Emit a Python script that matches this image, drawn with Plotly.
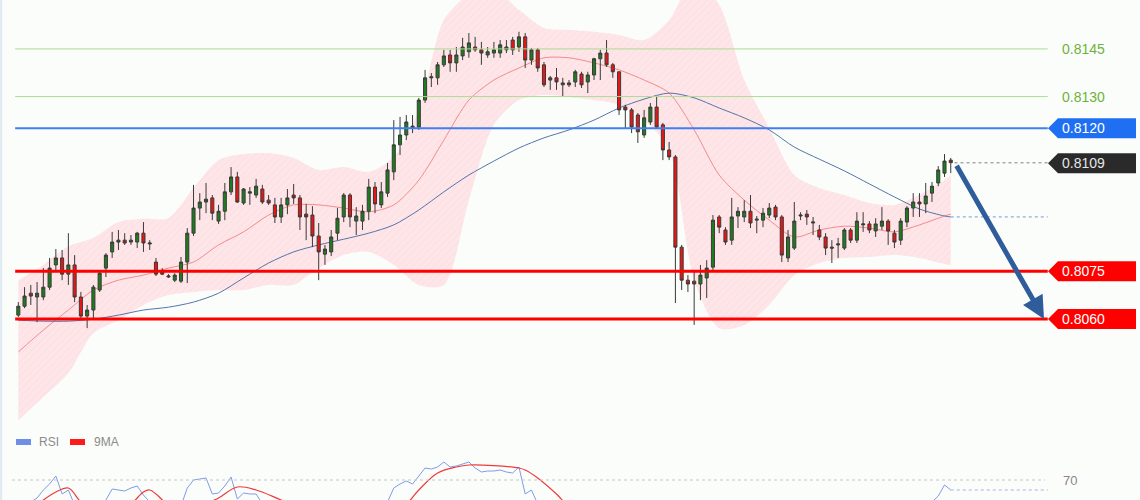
import plotly.graph_objects as go

W, H = 1140, 500

# ---------------- price data (one candle per index) ----------------
opens = [0.80612,0.80640,0.80681,0.80669,0.80669,0.80700,0.80770,0.80792,0.80741,0.80770,
         0.80669,0.80609,0.80628,0.80691,0.80760,0.80811,0.80842,0.80848,0.80842,0.80842,
         0.80870,0.80836,0.80779,0.80748,0.80732,0.80722,0.80719,0.80779,0.80870,0.80949,
         0.80968,0.80981,0.80908,0.80939,0.81000,0.81047,0.80965,0.80996,0.80990,0.81009,
         0.80974,0.80959,0.80921,0.80959,0.80990,0.80981,0.80930,0.80927,0.80861,0.80804,
         0.80811,0.80870,0.80921,0.80990,0.80908,0.80908,0.80939,0.81015,0.80959,0.80996,
         0.81063,0.81148,0.81179,0.81201,0.81204,0.81289,0.81359,0.81359,0.81400,0.81431,
         0.81406,0.81428,0.81441,0.81456,0.81447,0.81431,0.81437,0.81437,0.81447,0.81478,
         0.81456,0.81488,0.81415,0.81447,0.81400,0.81352,0.81359,0.81337,0.81343,0.81346,
         0.81371,0.81346,0.81368,0.81419,0.81437,0.81400,0.81378,0.81267,0.81258,0.81242,
         0.81179,0.81220,0.81267,0.81211,0.81132,0.81110,0.80826,0.80722,0.80719,0.80710,
         0.80729,0.80763,0.80921,0.80880,0.80848,0.80924,0.80921,0.80939,0.80911,0.80911,
         0.80927,0.80952,0.80921,0.80792,0.80823,0.80924,0.80930,0.80902,0.80880,0.80858,
         0.80826,0.80833,0.80823,0.80880,0.80848,0.80896,0.80899,0.80877,0.80892,0.80908,
         0.80870,0.80848,0.80905,0.80949,0.80968,0.80962,0.80996,0.81028,0.81059,0.81100]
highs = [0.80653,0.80700,0.80707,0.80716,0.80760,0.80792,0.80820,0.80817,0.80870,0.80801,
         0.80685,0.80644,0.80707,0.80748,0.80807,0.80874,0.80880,0.80870,0.80864,0.80874,
         0.80905,0.80848,0.80792,0.80760,0.80741,0.80744,0.80795,0.80886,0.81022,0.80996,
         0.81028,0.80990,0.80959,0.81028,0.81078,0.81063,0.81012,0.81015,0.81041,0.81022,
         0.80990,0.80981,0.80981,0.81009,0.81025,0.80990,0.80962,0.80955,0.80902,0.80833,
         0.80880,0.80949,0.80996,0.80996,0.80952,0.80959,0.81041,0.81031,0.81031,0.81091,
         0.81226,0.81236,0.81242,0.81242,0.81296,0.81384,0.81374,0.81409,0.81447,0.81447,
         0.81456,0.81485,0.81500,0.81488,0.81472,0.81456,0.81472,0.81478,0.81478,0.81488,
         0.81504,0.81500,0.81453,0.81453,0.81409,0.81365,0.81390,0.81359,0.81352,0.81384,
         0.81378,0.81378,0.81422,0.81447,0.81478,0.81406,0.81378,0.81274,0.81264,0.81248,
         0.81258,0.81280,0.81299,0.81217,0.81157,0.81116,0.80833,0.80738,0.80754,0.80770,
         0.80785,0.80927,0.80927,0.80889,0.80981,0.80952,0.80974,0.80990,0.80924,0.80949,
         0.80965,0.80959,0.80927,0.80880,0.80968,0.80936,0.80943,0.80921,0.80896,0.80870,
         0.80848,0.80855,0.80886,0.80886,0.80936,0.80936,0.80908,0.80917,0.80952,0.80914,
         0.80880,0.80917,0.80955,0.80996,0.80996,0.81028,0.81031,0.81081,0.81119,0.81107]
lows = [0.80606,0.80634,0.80644,0.80590,0.80659,0.80691,0.80754,0.80722,0.80707,0.80653,
        0.80603,0.80571,0.80603,0.80685,0.80732,0.80792,0.80817,0.80833,0.80833,0.80823,
        0.80811,0.80817,0.80735,0.80738,0.80729,0.80716,0.80713,0.80713,0.80861,0.80911,
        0.80933,0.80911,0.80899,0.80911,0.80990,0.80965,0.80959,0.80959,0.80981,0.80962,
        0.80959,0.80902,0.80902,0.80930,0.80962,0.80880,0.80848,0.80826,0.80722,0.80770,
        0.80798,0.80848,0.80905,0.80889,0.80864,0.80880,0.80911,0.80933,0.80949,0.80984,
        0.81037,0.81116,0.81163,0.81185,0.81195,0.81280,0.81330,0.81337,0.81393,0.81378,
        0.81378,0.81415,0.81422,0.81441,0.81400,0.81422,0.81422,0.81422,0.81437,0.81431,
        0.81441,0.81390,0.81400,0.81378,0.81330,0.81321,0.81321,0.81299,0.81330,0.81330,
        0.81327,0.81311,0.81352,0.81352,0.81393,0.81359,0.81242,0.81201,0.81185,0.81154,
        0.81170,0.81211,0.81201,0.81100,0.81100,0.80650,0.80691,0.80685,0.80581,0.80659,
        0.80666,0.80754,0.80870,0.80833,0.80833,0.80886,0.80905,0.80886,0.80870,0.80889,
        0.80917,0.80911,0.80779,0.80779,0.80817,0.80911,0.80896,0.80864,0.80848,0.80801,
        0.80776,0.80792,0.80817,0.80839,0.80839,0.80874,0.80870,0.80858,0.80880,0.80833,
        0.80823,0.80833,0.80889,0.80921,0.80921,0.80933,0.80968,0.81018,0.81047,0.81059]
closes = [0.80640,0.80672,0.80672,0.80681,0.80700,0.80760,0.80792,0.80741,0.80770,0.80669,
          0.80609,0.80628,0.80700,0.80744,0.80801,0.80842,0.80848,0.80839,0.80848,0.80870,
          0.80839,0.80839,0.80741,0.80741,0.80735,0.80738,0.80779,0.80870,0.80949,0.80968,
          0.80977,0.80933,0.80939,0.81000,0.81047,0.80968,0.81009,0.81000,0.81018,0.80968,
          0.80965,0.80921,0.80959,0.80981,0.80981,0.80921,0.80921,0.80861,0.80811,0.80820,
          0.80858,0.80917,0.80990,0.80921,0.80924,0.80939,0.81015,0.80962,0.81000,0.81069,
          0.81148,0.81179,0.81220,0.81207,0.81289,0.81359,0.81362,0.81400,0.81428,0.81406,
          0.81431,0.81456,0.81469,0.81447,0.81437,0.81441,0.81447,0.81463,0.81456,0.81447,
          0.81488,0.81415,0.81447,0.81390,0.81337,0.81359,0.81346,0.81343,0.81337,0.81378,
          0.81337,0.81368,0.81419,0.81437,0.81400,0.81378,0.81258,0.81258,0.81204,0.81189,
          0.81233,0.81267,0.81204,0.81132,0.81110,0.80826,0.80722,0.80710,0.80710,0.80738,
          0.80760,0.80911,0.80889,0.80842,0.80921,0.80939,0.80939,0.80902,0.80914,0.80933,
          0.80949,0.80921,0.80801,0.80858,0.80908,0.80927,0.80921,0.80905,0.80858,0.80823,
          0.80823,0.80836,0.80880,0.80848,0.80908,0.80899,0.80880,0.80899,0.80908,0.80877,
          0.80842,0.80908,0.80949,0.80968,0.80962,0.80987,0.81018,0.81069,0.81097,0.81092]
candle_idx = list(range(len(opens)))

# ---------------- indicators (sampled every 4th candle) ----------------
band_idx = list(range(0, 149, 4)) + [149]
bb_upper = [0.80722,0.80770,0.80829,0.80855,0.80905,0.80915,0.80918,0.81012,0.81100,0.81119,
            0.81122,0.81107,0.81069,0.81078,0.81063,0.81110,0.81258,0.81541,0.81620,0.81636,
            0.81573,0.81516,0.81510,0.81504,0.81494,0.81478,0.81541,0.81667,0.81589,0.81352,
            0.81201,0.81053,0.81012,0.80990,0.80965,0.80959,0.80990,0.81037,0.81053]
bb_lower = [0.80281,0.80354,0.80429,0.80555,0.80596,0.80644,0.80675,0.80685,0.80691,0.80691,
            0.80707,0.80707,0.80760,0.80801,0.80811,0.80770,0.80707,0.80707,0.80974,0.81211,
            0.81289,0.81305,0.81299,0.81289,0.81274,0.81226,0.81132,0.80722,0.80571,0.80581,
            0.80644,0.80738,0.80776,0.80792,0.80795,0.80801,0.80792,0.80773,0.80770]
bb_mid = [0.80496,0.80565,0.80628,0.80691,0.80722,0.80738,0.80760,0.80779,0.80833,0.80874,
          0.80927,0.80959,0.80959,0.80949,0.80937,0.80959,0.81037,0.81163,0.81289,0.81352,
          0.81390,0.81422,0.81422,0.81406,0.81384,0.81352,0.81311,0.81195,0.81053,0.80974,
          0.80911,0.80858,0.80880,0.80892,0.80886,0.80874,0.80896,0.80924,0.80930]
ma_slow = [0.80596,0.80593,0.80593,0.80599,0.80612,0.80628,0.80637,0.80653,0.80681,0.80729,
           0.80776,0.80811,0.80833,0.80851,0.80870,0.80896,0.80943,0.81000,0.81053,0.81097,
           0.81138,0.81170,0.81195,0.81226,0.81264,0.81292,0.81311,0.81296,0.81264,0.81233,
           0.81195,0.81141,0.81103,0.81066,0.81025,0.80984,0.80946,0.80924,0.80921]

# ---------------- levels ----------------
green_levels = [0.8145, 0.8130]
blue_level = 0.8120
red_levels = [0.8075, 0.8060]
last_price = 0.8109

# ---------------- RSI panel ----------------
rsi = [56,58,59,61,65,68,72,63,65,57,50,47,49,56,60,
       65.5,65,64.5,66,67,62.5,59,50,46,44,46,57,66,70,70.5,
       71,63,63.5,67,71.5,60.5,63.5,63,63,58,56,50,53,56,55,
       50,49,44,40,41,45,49,55,49,50,52,57,53,55,59,
       66,68,69.5,68,72,76,75.5,76.5,79,76.5,77,78,79,76,74,
       74.5,74.5,75,74,73.5,76.5,63,65,58,50,51,49,48,48,52,
       49,51,56,58,52,49,40,39,36,34,39,43,38,33,31,
       20,17,17,17,20,25,40,37,34,43,45,45,42,42,44,
       46,44,34,40,46,46,45,43,40,36,36,37,43,40,46,
       46,44,46,47,44,41,47,52,55,54,56,59,62,67.5,65]
ma9_idx = [0,2,4,6,8,10,12,14,16,18,20,21,22,24,26,28,30,32,35,38,42,46,50,54,58,62,64,67,
           70,72,76,80,81,83,86,88,92,96,100,106,112,118,124,130,136,142,149]
ma9 = [52,55,60,64,66,59,55,54,55,58,64,65,63,57,52,54,58,61,66.5,65,60,55,48,47,51,58,65,73.5,
       76.5,77.5,77.2,76,75,71,63,57,54,52,46,38,40,47,50,48,52,55,58]
rsi_level = 70

# ---------------- geometry ----------------
Y_RANGE = [0.80030, 0.81604]
X_RANGE = [-2.924, 179.24]
LINE_X0, LINE_X1 = -0.5, 164.5

def px(x):
    return x / W

def py(y):
    return 1 - y / H

BOX_HALF = (Y_RANGE[1] - Y_RANGE[0]) * 10 / H

FONT = "Liberation Sans, Arial, sans-serif"

fig = go.Figure()

# Bollinger band fill (main subplot, drawn underneath)
fig.add_trace(go.Scatter(x=band_idx, y=bb_upper, mode="lines",
                         line=dict(width=0, shape="spline", smoothing=0.8, color="rgba(0,0,0,0)"),
                         hoverinfo="skip", showlegend=False))
fig.add_trace(go.Scatter(x=band_idx, y=bb_lower, mode="lines",
                         line=dict(width=0, shape="spline", smoothing=0.8, color="rgba(0,0,0,0)"),
                         fill="tonexty", fillcolor="#fde4e7",
                         fillpattern=dict(shape="/", fgcolor="#f8cdd3", bgcolor="#fde5e8",
                                          size=5, solidity=0.15),
                         hoverinfo="skip", showlegend=False))
fig.add_trace(go.Scatter(x=band_idx, y=bb_mid, mode="lines",
                         line=dict(width=1, shape="spline", smoothing=0.8, color="#f28c8c"),
                         hoverinfo="skip", showlegend=False))
fig.add_trace(go.Scatter(x=band_idx, y=ma_slow, mode="lines",
                         line=dict(width=1, shape="spline", smoothing=0.8, color="#5574aa"),
                         hoverinfo="skip", showlegend=False))

# candles on an overlaying axis so they sit above the band fill
fig.add_trace(go.Candlestick(
    x=candle_idx, open=opens, high=highs, low=lows, close=closes, yaxis="y3",
    increasing=dict(line=dict(color="#3a3a3a", width=1), fillcolor="#1d7d1d"),
    decreasing=dict(line=dict(color="#3a3a3a", width=1), fillcolor="#ee1414"),
    whiskerwidth=0, showlegend=False, hoverinfo="skip"))

# RSI lines
fig.add_trace(go.Scatter(x=candle_idx, y=rsi, mode="lines", yaxis="y2",
                         line=dict(width=1, color="#7f9be8"), hoverinfo="skip", showlegend=False))
fig.add_trace(go.Scatter(x=ma9_idx, y=ma9, mode="lines", yaxis="y2",
                         line=dict(width=1.2, color="#ef3a3a", shape="spline"),
                         hoverinfo="skip", showlegend=False))

shapes = []
annotations = []

# left frame edge
shapes.append(dict(type="line", xref="paper", yref="paper", x0=0.001, x1=0.001, y0=0, y1=1,
                   line=dict(color="#dfe9f0", width=2)))

for lv in green_levels:
    shapes.append(dict(type="line", xref="x", yref="y", x0=LINE_X0, x1=LINE_X1, y0=lv, y1=lv,
                       line=dict(color="#addb94", width=1)))
    annotations.append(dict(xref="paper", yref="y", x=px(1060), y=lv, text=f"{lv:.4f}",
                            showarrow=False, xanchor="left", yanchor="middle",
                            font=dict(family=FONT, size=14, color="#6db23e")))

def label_box(level, color, text, text_color="white"):
    xt, xa, xr = px(1048), px(1058), px(1136)
    path = (f"M {xt},{level} L {xa},{level + BOX_HALF} L {xr},{level + BOX_HALF} "
            f"L {xr},{level - BOX_HALF} L {xa},{level - BOX_HALF} Z")
    shapes.append(dict(type="path", xref="paper", yref="y", path=path,
                       fillcolor=color, line=dict(width=0)))
    annotations.append(dict(xref="paper", yref="y", x=px(1060), y=level, text=text,
                            showarrow=False, xanchor="left", yanchor="middle",
                            font=dict(family=FONT, size=14, color=text_color)))

shapes.append(dict(type="line", xref="x", yref="y", x0=LINE_X0, x1=LINE_X1,
                   y0=blue_level, y1=blue_level, line=dict(color="#3f7ff2", width=2)))
label_box(blue_level, "#1f6ff2", f"{blue_level:.4f}")

for lv in red_levels:
    shapes.append(dict(type="line", xref="x", yref="y", x0=LINE_X0, x1=LINE_X1, y0=lv, y1=lv,
                       line=dict(color="#ff0000", width=3)))
    label_box(lv, "#ff0000", f"{lv:.4f}")

# last price marker
shapes.append(dict(type="line", xref="x", yref="y", x0=candle_idx[-1] + 0.6, x1=LINE_X1,
                   y0=closes[-1], y1=closes[-1], line=dict(color="#a9a9a9", width=1.5, dash="dot")))
label_box(last_price, "#2a2a2a", f"{last_price:.4f}", "#e6e6e6")

# slow MA last value marker
shapes.append(dict(type="line", xref="x", yref="y", x0=band_idx[-1], x1=LINE_X1,
                   y0=ma_slow[-1], y1=ma_slow[-1], line=dict(color="#92aae0", width=1.2, dash="dot")))

# forecast arrow
annotations.append(dict(x=163.9, y=red_levels[1], xref="x", yref="y",
                        ax=candle_idx[-1] + 0.8, ay=last_price - 0.00003, axref="x", ayref="y",
                        text="", showarrow=True, arrowhead=2, arrowsize=0.9, arrowwidth=5,
                        arrowcolor="#2f5d9c", standoff=0, startstandoff=0))

# RSI panel decorations
shapes.append(dict(type="line", xref="paper", yref="y2", x0=px(12), x1=px(1045),
                   y0=rsi_level, y1=rsi_level, line=dict(color="#c6c6c6", width=1, dash="dot")))
annotations.append(dict(xref="paper", yref="y2", x=px(1061), y=rsi_level, text=str(rsi_level),
                        showarrow=False, xanchor="left", yanchor="middle",
                        font=dict(family=FONT, size=13, color="#888888")))
shapes.append(dict(type="line", xref="x", yref="y2", x0=candle_idx[-1], x1=LINE_X1,
                   y0=rsi[-1], y1=rsi[-1], line=dict(color="#9fb3ea", width=1, dash="dot")))

# legend
shapes.append(dict(type="rect", xref="paper", yref="paper", x0=px(16), x1=px(31),
                   y0=py(445), y1=py(439), fillcolor="#6f8ee6", line=dict(width=0)))
annotations.append(dict(xref="paper", yref="paper", x=px(37), y=py(442), text="RSI",
                        showarrow=False, xanchor="left", yanchor="middle",
                        font=dict(family=FONT, size=12, color="#8a8a8a")))
shapes.append(dict(type="rect", xref="paper", yref="paper", x0=px(70), x1=px(85),
                   y0=py(445), y1=py(439), fillcolor="#ff1a1a", line=dict(width=0)))
annotations.append(dict(xref="paper", yref="paper", x=px(92), y=py(442), text="9MA",
                        showarrow=False, xanchor="left", yanchor="middle",
                        font=dict(family=FONT, size=12, color="#8a8a8a")))

fig.update_layout(
    width=W, height=H, margin=dict(l=0, r=0, t=0, b=0),
    paper_bgcolor="#fbfdfb", plot_bgcolor="#fbfdfb",
    showlegend=False, shapes=shapes, annotations=annotations,
    xaxis=dict(range=X_RANGE, visible=False, showgrid=False, zeroline=False,
               rangeslider=dict(visible=False), fixedrange=True),
    yaxis=dict(range=Y_RANGE, domain=[0, 1], visible=False, showgrid=False, zeroline=False),
    yaxis2=dict(range=[60, 90], domain=[0, 0.12], anchor="x", visible=False,
                showgrid=False, zeroline=False),
    yaxis3=dict(range=Y_RANGE, overlaying="y", anchor="x", visible=False,
                showgrid=False, zeroline=False),
    font=dict(family=FONT),
)

fig.write_html("out.html")
